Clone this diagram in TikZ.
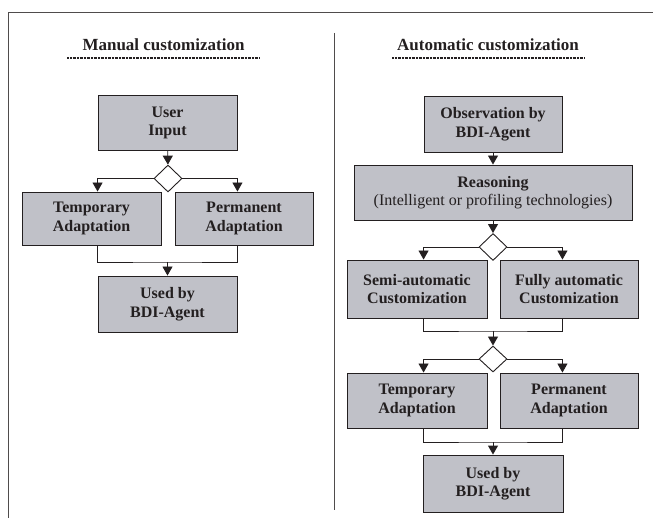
\documentclass[tikz,border=0pt]{standalone}
\usepackage{fontspec}
\setmainfont{Liberation Serif}
\usetikzlibrary{arrows.meta,shapes.geometric}
\definecolor{boxgray}{RGB}{192,193,200}
\definecolor{ink}{RGB}{35,31,32}
\begin{document}
\begin{tikzpicture}[
  x=1pt, y=-1pt,
  step box/.style  = {draw=ink, line width=0.9pt, fill=boxgray, text=ink,
                      inner sep=0pt, align=center,
                      font=\fontsize{16}{18.5}\selectfont\bfseries},
  narrow/.style    = {step box, minimum width=139pt, minimum height=55pt},
  wide/.style      = {step box, minimum width=278pt, minimum height=55pt},
  choice/.style    = {draw=ink, line width=0.9pt, fill=white, diamond,
                      inner sep=0pt, minimum width=28pt, minimum height=27pt},
  title/.style     = {text=ink, font=\fontsize{17}{20}\selectfont\bfseries},
  uline/.style     = {ink, line width=1.4pt, dash pattern=on 0.7pt off 0.7pt},
  frame/.style     = {ink!80, line width=0.9pt},
  wire/.style      = {ink, line width=0.9pt},
  arrow/.style     = {wire, -{Triangle[length=9pt,width=10pt]}},
]
  \useasboundingbox (0,0) rectangle (653,518);

  % frame and the divider between the two halves
  \draw[frame] (653,12.5) -- (8,12.5) -- (8,518);
  \draw[frame] (334,33) -- (334,510);

  % manual customization
  \node[title] (ltitle) at (163.5,45) {Manual customization};
  \draw[uline] (67,58) -- (260,58);

  \node[narrow] (user) at (167.5,123) {User\\Input};
  \node[choice] (ldia) at (168,178.5) {};
  \node[narrow, minimum height=53pt] (ltemp) at (91.5,218.5) {Temporary\\Adaptation};
  \node[narrow, minimum height=53pt, minimum width=138pt] (lperm) at (244,218.5) {Permanent\\Adaptation};
  \node[narrow, minimum height=56pt] (lused) at (167.5,304) {Used by\\BDI-Agent};
  \coordinate (ljoin) at (167.5,262);

  \draw[arrow] (user) -- (ldia);
  \draw[arrow] (ldia.west) -| (user.west |- ltemp.north);
  \draw[arrow] (ldia.east) -| (user.east |- lperm.north);
  \draw[wire] (user.west |- ltemp.south) |- (ljoin) -| (user.east |- lperm.south);
  \draw[arrow] (ljoin) -- (lused);

  % automatic customization
  \node[title] (rtitle) at (488,45) {Automatic customization};
  \draw[uline] (392,58) -- (585,58);

  \node[narrow, minimum height=56pt, minimum width=138pt] (obs) at (493,124) {Observation by\\BDI-Agent};
  \node[wide] (reason) at (493,192.5) {Reasoning\\\mdseries(Intelligent or profiling technologies)};
  \node[choice] (rdia1) at (493,247) {};
  \node[narrow, minimum height=58pt, minimum width=140pt] (semi) at (417,289) {Semi-automatic\\Customization};
  \node[narrow, minimum height=58pt, minimum width=138pt] (fully) at (569,289) {Fully automatic\\Customization};
  \coordinate (rjoin1) at (493,331);
  \node[choice, minimum height=26pt] (rdia2) at (493,359) {};
  \node[narrow, minimum width=140pt] (rtemp) at (417,400.5) {Temporary\\Adaptation};
  \node[narrow, minimum width=138pt] (rperm) at (569,400.5) {Permanent\\Adaptation};
  \coordinate (rjoin2) at (493,442);
  \node[narrow, minimum height=57pt, minimum width=140pt] (rused) at (493,483.5) {Used by\\BDI-Agent};

  \draw[arrow] (obs) -- (reason);
  \draw[arrow] (reason) -- (rdia1);
  \draw[arrow] (rdia1.west) -| (obs.west |- semi.north);
  \draw[arrow] (rdia1.east) -| (obs.east |- fully.north);
  \draw[wire] (obs.west |- semi.south) |- (rjoin1) -| (obs.east |- fully.south);
  \draw[arrow] (rjoin1) -- (rdia2);
  \draw[arrow] (rdia2.west) -| (obs.west |- rtemp.north);
  \draw[arrow] (rdia2.east) -| (obs.east |- rperm.north);
  \draw[wire] (obs.west |- rtemp.south) |- (rjoin2) -| (obs.east |- rperm.south);
  \draw[arrow] (rjoin2) -- (rused);
\end{tikzpicture}
\end{document}
